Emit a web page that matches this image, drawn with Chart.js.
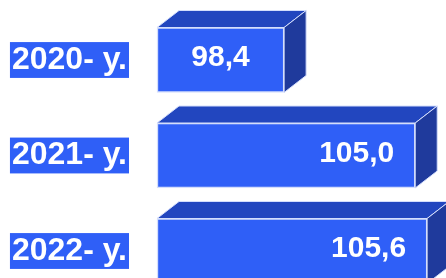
<!DOCTYPE html>
<html>
<head>
<meta charset="utf-8">
<script src="https://cdn.jsdelivr.net/npm/chart.js@4.4.1/dist/chart.umd.min.js"></script>
<style>
  html, body { margin: 0; padding: 0; background: #fff; }
  canvas { display: block; }
</style>
</head>
<body>
<canvas id="yearChart" width="446" height="278"></canvas>
<script>
// chart data
const years = ['2020- y.', '2021- y.', '2022- y.'];
const values = [98.4, 105.0, 105.6];
const axisMin = 92;
const axisMax = 106.5;

const frontColor = '#2f5ff7';
const topColor = '#2246bf';
const sideColor = '#1f3a9c';
const edgeColor = '#d4defc';

// draws the top and side faces of each bar plus the value text
const boxPlugin = {
    id: 'box3d',
    afterDatasetsDraw(chart) {
        const ctx = chart.ctx;
        const dx = 22, dy = 17;
        chart.getDatasetMeta(0).data.forEach((bar, i) => {
            const { x, y, base, height } = bar.getProps(['x', 'y', 'base', 'height'], true);
            const top = y - height / 2;
            const bottom = y + height / 2;
            ctx.save();
            ctx.lineWidth = 1;
            ctx.strokeStyle = edgeColor;
            // top face
            ctx.beginPath();
            ctx.moveTo(base, top);
            ctx.lineTo(base + dx, top - dy);
            ctx.lineTo(x + dx, top - dy);
            ctx.lineTo(x, top);
            ctx.closePath();
            ctx.fillStyle = topColor;
            ctx.fill();
            ctx.stroke();
            // side face
            ctx.beginPath();
            ctx.moveTo(x, top);
            ctx.lineTo(x + dx, top - dy);
            ctx.lineTo(x + dx, bottom - dy);
            ctx.lineTo(x, bottom);
            ctx.closePath();
            ctx.fillStyle = sideColor;
            ctx.fill();
            ctx.stroke();

            // value text
            const txt = values[i].toFixed(1).replace('.', ',');
            ctx.font = 'bold 30px "Liberation Sans", Arial, sans-serif';
            ctx.fillStyle = '#ffffff';
            ctx.textBaseline = 'middle';
            if (x - base < 150) {
                ctx.textAlign = 'center';
                ctx.fillText(txt, (x + base) / 2, y - 2);
            } else {
                ctx.textAlign = 'right';
                ctx.fillText(txt, x - 21, y - 2);
            }
            ctx.restore();
        });
    }
};

const ctx = document.getElementById('yearChart').getContext('2d');
const chart = new Chart(ctx, {
    type: 'bar',
    data: {
        labels: years,
        datasets: [{
            data: values,
            base: axisMin,
            backgroundColor: frontColor,
            borderColor: edgeColor,
            borderWidth: 1.5,
            borderSkipped: false,
            barThickness: 65,
            clip: false
        }]
    },
    options: {
        indexAxis: 'y',
        responsive: false,
        animation: false,
        layout: {
            padding: { top: 60, bottom: 27, left: 0, right: 1 }
        },
        plugins: {
            legend: { display: false },
            tooltip: { enabled: false }
        },
        scales: {
            x: {
                display: false,
                min: axisMin,
                max: axisMax
            },
            y: {
                offset: false,
                grid: { display: false, drawTicks: false },
                border: { display: false },
                afterFit(scale) {
                    scale.width = 157;
                    scale.paddingTop = 0;
                    scale.paddingBottom = 0;
                },
                ticks: {
                    color: '#ffffff',
                    padding: 30,
                    font: {
                        family: '"Liberation Sans", Arial, sans-serif',
                        weight: 'bold',
                        size: 32,
                        lineHeight: 1.12
                    },
                    showLabelBackdrop: true,
                    backdropColor: frontColor,
                    backdropPadding: { top: 0, bottom: 0, left: 2, right: 2 }
                }
            }
        }
    },
    plugins: [boxPlugin]
});
</script>
</body>
</html>
